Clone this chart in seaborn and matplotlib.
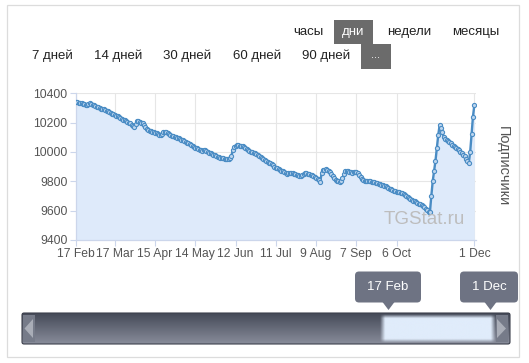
import numpy as np
import pandas as pd
import matplotlib
matplotlib.use("Agg")
import matplotlib.pyplot as plt
import seaborn as sns
from matplotlib.patches import Rectangle, FancyBboxPatch, Polygon

# ---------------- data ----------------
start_date = "2023-02-17"
subscribers = [
    10343, 10338, 10336, 10332, 10333, 10330, 10325, 10318, 10320, 10328,
    10332, 10328, 10322, 10318, 10312, 10309, 10305, 10300, 10296, 10292,
    10290, 10285, 10280, 10276, 10270, 10266, 10262, 10256, 10250, 10246,
    10243, 10238, 10232, 10226, 10220, 10215, 10210, 10205, 10200, 10195,
    10186, 10176, 10168, 10190, 10210, 10213, 10205, 10200, 10196, 10185,
    10172, 10160, 10152, 10146, 10142, 10138, 10134, 10130, 10126, 10122,
    10118, 10115, 10120, 10135, 10138, 10134, 10128, 10122, 10116, 10112,
    10108, 10104, 10100, 10096, 10092, 10087, 10083, 10080, 10075, 10070,
    10064, 10058, 10052, 10047, 10042, 10036, 10030, 10025, 10020, 10016,
    10012, 10010, 10011, 10012, 10008, 10003, 9996, 9990, 9985, 9980,
    9977, 9972, 9968, 9965, 9962, 9960, 9957, 9954, 9952, 9950,
    9952, 9960, 9975, 10013, 10032, 10042, 10046, 10045, 10043, 10042,
    10038, 10034, 10028, 10020, 10012, 10006, 10002, 9999, 9996, 9992,
    9986, 9980, 9974, 9966, 9960, 9954, 9946, 9940, 9934, 9928,
    9922, 9915, 9908, 9900, 9893, 9888, 9882, 9877, 9872, 9867,
    9862, 9856, 9852, 9856, 9860, 9858, 9855, 9852, 9848, 9844,
    9840, 9836, 9838, 9844, 9850, 9855, 9854, 9852, 9850, 9846,
    9842, 9836, 9832, 9826, 9818, 9808, 9797, 9860, 9878, 9880,
    9882, 9878, 9872, 9866, 9852, 9838, 9822, 9812, 9805, 9800,
    9797, 9800, 9820, 9850, 9870, 9872, 9870, 9866, 9862, 9860,
    9864, 9866, 9862, 9856, 9845, 9832, 9818, 9808, 9804, 9802,
    9804, 9803, 9801, 9798, 9795, 9793, 9790, 9788, 9785, 9782,
    9778, 9774, 9770, 9765, 9760, 9755, 9750, 9745, 9740, 9736,
    9733, 9730, 9728, 9725, 9722, 9718, 9714, 9708, 9702, 9696,
    9688, 9680, 9672, 9668, 9663, 9658, 9654, 9648, 9642, 9636,
    9630, 9622, 9612, 9603, 9592, 9590, 9700, 9800, 9870, 9940,
    10025, 10116, 10184, 10165, 10135, 10100, 10088, 10080, 10072, 10066,
    10058, 10050, 10042, 10035, 10028, 10022, 10012, 10002, 9992, 9982,
    9970, 9955, 9940, 9925, 10000, 10125, 10240, 10320,
]
tick_dates = ["2023-02-17", "2023-03-17", "2023-04-15", "2023-05-14", "2023-06-12",
              "2023-07-11", "2023-08-09", "2023-09-07", "2023-10-06", "2023-12-01"]
tick_labels = ["17 Feb", "17 Mar", "15 Apr", "14 May", "12 Jun",
               "11 Jul", "9 Aug", "7 Sep", "6 Oct", "1 Dec"]
y_ticks = [9400, 9600, 9800, 10000, 10200, 10400]
y_label = "Подписчики"
period_buttons = ["часы", "дни", "недели", "месяцы"]
range_buttons = ["7 дней", "14 дней", "30 дней", "60 дней", "90 дней", "..."]
nav_labels = ["17 Feb", "1 Dec"]
watermark = "TGStat.ru"

# ---------------- setup ----------------
W, H = 529, 363
sns.set_theme(style="white")
plt.rcParams["font.family"] = ["Liberation Sans", "DejaVu Sans"]

fig = plt.figure(figsize=(W / 100, H / 100), dpi=100)
fig.patch.set_facecolor("white")

ov = fig.add_axes([0, 0, 1, 1], zorder=0)
ov.set_xlim(0, W)
ov.set_ylim(H, 0)
ov.axis("off")

ov.add_patch(Rectangle((7, 5), 512, 352, fill=False, ec="#dcdcdc", lw=0.9))

txt_kw = dict(fontsize=9.5, va="center", ha="center", color="#222222")
period_x = [308, 353, 409, 476]
for lab, x in zip(period_buttons, period_x):
    if lab == "дни":
        ov.add_patch(Rectangle((334, 20), 39, 24, color="#6b6b6b", lw=0))
        ov.text(x, 32, lab, **{**txt_kw, "color": "white"})
    else:
        ov.text(x, 32, lab, **txt_kw)
range_x = [52.5, 118, 187, 257, 326, 376]
for lab, x in zip(range_buttons, range_x):
    if lab == "...":
        ov.add_patch(Rectangle((361, 44), 30, 24.5, color="#6b6b6b", lw=0))
        ov.text(x, 54.5, lab, **{**txt_kw, "color": "white", "fontsize": 8})
    else:
        ov.text(x, 55.5, lab, **txt_kw)

# ---------------- main chart ----------------
L, R, T, B = 76, 475.5, 93.3, 240
ax = fig.add_axes([L / W, 1 - B / H, (R - L) / W, (B - T) / H], zorder=2)
ax.set_facecolor("none")

df = pd.DataFrame({"date": pd.date_range(start_date, periods=len(subscribers), freq="D"),
                   "value": subscribers})
ax.fill_between(df["date"], df["value"], y_ticks[0], color="#deeafa", lw=0, zorder=1)
sns.lineplot(data=df, x="date", y="value", ax=ax, color="#4a8cc4", lw=1.7,
             marker="o", markersize=3.0, markerfacecolor="#bcd5ee",
             markeredgecolor="#4a8cc4", markeredgewidth=0.8, zorder=3)

ax.set_xlim(df["date"].iloc[0], df["date"].iloc[-1] + pd.Timedelta(hours=20))
ax.set_ylim(y_ticks[0], y_ticks[-1])
ax.set_xticks(pd.to_datetime(tick_dates))
ax.set_xticklabels(tick_labels)
ax.set_yticks(y_ticks)
ax.set_yticklabels([str(v) for v in y_ticks])
ax.set_xlabel("")
ax.set_ylabel("")
ax.grid(True, color="#e6e6e6", lw=0.8, zorder=0)
ax.set_axisbelow(True)
for s in ["top", "right"]:
    ax.spines[s].set_visible(False)
for s in ["left", "bottom"]:
    ax.spines[s].set_color("#ccd6eb")
    ax.spines[s].set_linewidth(0.9)
ax.tick_params(axis="both", which="both", length=4, width=0.8, color="#ccd6eb",
               labelcolor="#555555", labelsize=8.7, pad=2, direction="out",
               bottom=True, left=True)

fig.text(503 / W, 1 - 166 / H, y_label, rotation=270, fontsize=10.5, color="#555555",
         ha="center", va="center", zorder=5)
fig.text(424 / W, 1 - 219 / H, watermark, fontsize=13.5, color="#bdbdbd",
         ha="center", va="center", zorder=5)

# ---------------- navigator ----------------
nx0, nx1, ny0, ny1 = 22, 510, 313, 344
grad = np.linspace(0, 1, 64)[:, None]
c_top = np.array([0x45, 0x4a, 0x58]) / 255
c_bot = np.array([0x88, 0x8c, 0x9a]) / 255
img = c_top[None, None, :] * (1 - grad[..., None]) + c_bot[None, None, :] * grad[..., None]
img = np.repeat(img, 2, axis=1)
ov.imshow(img, extent=[nx0, nx1, ny1, ny0], aspect="auto", zorder=1, interpolation="bilinear")
ov.add_patch(FancyBboxPatch((nx0, ny0), nx1 - nx0, ny1 - ny0,
                            boxstyle="round,pad=0,rounding_size=2",
                            fill=False, ec="#3d414d", lw=0.8, zorder=2))

sx0, sx1, sy0, sy1 = 383, 493, 316, 341
hw = 400
xs = np.linspace(sx0 - 3, sx1 + 3, hw)
ys = np.linspace(sy0 - 2, sy1 + 2, 60)
ax_a = np.clip(np.minimum(xs - (sx0 - 3), (sx1 + 3) - xs) / 5, 0, 1)
ay_a = np.clip(np.minimum(ys - (sy0 - 2), (sy1 + 2) - ys) / 4, 0, 1)
alpha = ay_a[:, None] * ax_a[None, :]
sel = np.zeros((len(ys), hw, 4))
sel[..., 0] = 0xe0 / 255
sel[..., 1] = 0xec / 255
sel[..., 2] = 0xfb / 255
sel[..., 3] = alpha
ov.imshow(sel, extent=[sx0 - 3, sx1 + 3, sy1 + 2, sy0 - 2], aspect="auto", zorder=3,
          interpolation="bilinear")

ov.add_patch(Rectangle((nx0 + 1, ny0 + 2), 12, ny1 - ny0 - 4, color="#767b89", lw=0, zorder=2))
ov.add_patch(Polygon([[33, 319], [33, 338], [24.5, 328.5]], closed=True, color="#a9adb7", lw=0, zorder=3))
ov.add_patch(Rectangle((496, ny0 + 2), 12, ny1 - ny0 - 4, color="#767b89", lw=0, zorder=2))
ov.add_patch(Polygon([[497, 319], [497, 338], [506, 328.5]], closed=True, color="#a9adb7", lw=0, zorder=3))

tips = [(355, 421, 388.5), (460, 518, 490.5)]
for (bx0, bx1, px), lab in zip(tips, nav_labels):
    ov.add_patch(FancyBboxPatch((bx0, 271.5), bx1 - bx0, 31, boxstyle="round,pad=0,rounding_size=4",
                                color="#6e7383", lw=0, zorder=4))
    ov.add_patch(Polygon([[px - 6, 302], [px + 6, 302], [px, 310]], closed=True,
                         color="#6e7383", lw=0, zorder=4))
    ov.text((bx0 + bx1) / 2, 287.5, lab, fontsize=9.5, color="white", ha="center",
            va="center", zorder=5)

fig.savefig("out.png", dpi=100, facecolor="white")
